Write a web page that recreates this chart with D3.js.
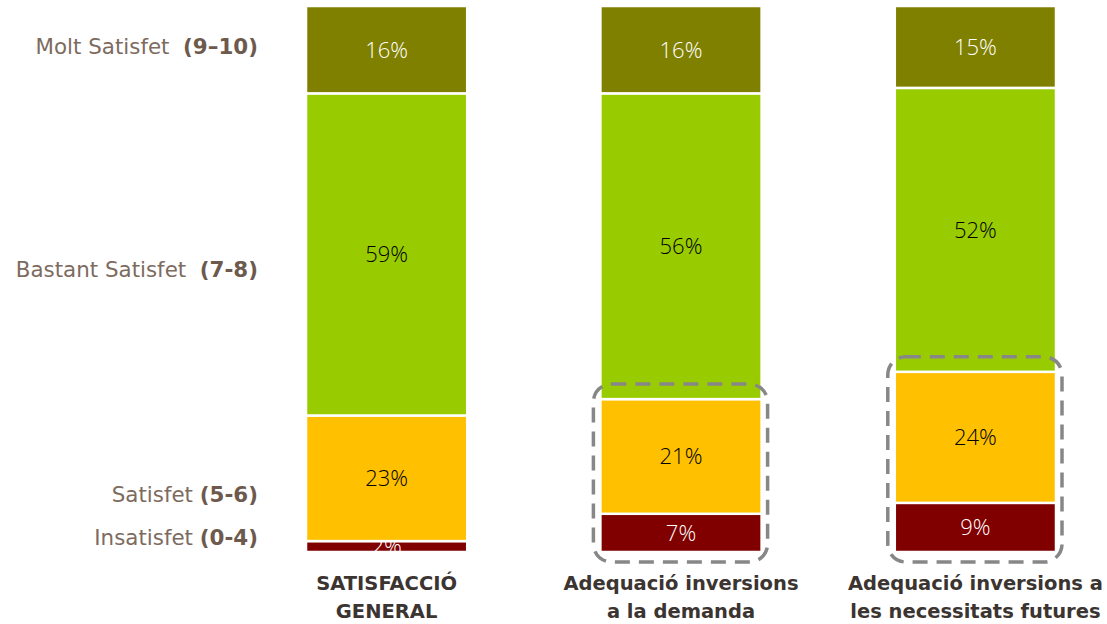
<!DOCTYPE html>
<html><head><meta charset="utf-8">
<script src="https://cdn.jsdelivr.net/npm/d3@7"></script>
<style>body{margin:0;background:#fff;}svg{display:block;}</style>
</head><body>
<svg id="c" width="1107" height="624"></svg>
<script>
const categories = ["SATISFACCIÓ GENERAL", "Adequació inversions a la demanda", "Adequació inversions a les necessitats futures"];
const categoryLines = [["SATISFACCIÓ", "GENERAL"], ["Adequació inversions", "a la demanda"], ["Adequació inversions a", "les necessitats futures"]];
const seriesNames = ["Insatisfet", "Satisfet", "Bastant Satisfet", "Molt Satisfet"];
const seriesRanges = ["(0-4)", "(5-6)", "(7-8)", "(9–10)"];
const insatisfet = [2, 7, 9];
const satisfet = [23, 21, 24];
const bastant = [59, 56, 52];
const molt = [16, 16, 15];
const highlighted = [false, true, true];

const colors = ["#800000", "#FFC000", "#99CC00", "#808000"];
const labelColors = ["#ffffff", "#000000", "#000000", "#ffffff"];
const values = [insatisfet, satisfet, bastant, molt];

const svg = d3.select("#c");
const x = d3.scaleBand().domain(categories).range([306, 1056]).paddingInner(0.4524).paddingOuter(0);
const y = d3.scaleLinear().domain([0, 100]).range([552, 6]);

const rows = categories.map((c, i) => {
  const r = {cat: c};
  seriesNames.forEach((s, j) => r[s] = values[j][i]);
  return r;
});
const stacked = d3.stack().keys(seriesNames)(rows);

stacked.forEach((layer, j) => {
  const g = svg.append("g");
  g.selectAll("rect").data(layer).join("rect")
    .attr("x", d => x(d.data.cat))
    .attr("width", x.bandwidth())
    .attr("y", d => y(d[1]))
    .attr("height", d => y(d[0]) - y(d[1]))
    .attr("fill", colors[j])
    .attr("stroke", "#fff").attr("stroke-width", 2.5);
  g.selectAll("text").data(layer).join("text")
    .attr("x", d => x(d.data.cat) + x.bandwidth() / 2)
    .attr("y", d => (y(d[0]) + y(d[1])) / 2)
    .attr("dy", "0.36em")
    .attr("text-anchor", "middle")
    .attr("font-family", "'Open Sans', sans-serif")
    .attr("font-weight", 300)
    .attr("font-size", 22)
    .attr("fill", labelColors[j])
    .text(d => (d[1] - d[0]) + "%");
});

stacked[0].forEach((d, i) => {
  if (!highlighted[i]) return;
  const top = y(stacked[1][i][1]) - 15;
  const bottom = y(0) + 10;
  const left = x(d.data.cat) - 7;
  const right = x(d.data.cat) + x.bandwidth() + 6;
  svg.append("rect")
    .attr("x", left).attr("y", top)
    .attr("width", right - left).attr("height", bottom - top)
    .attr("rx", 18).attr("ry", 18)
    .attr("fill", "none").attr("stroke", "#878787")
    .attr("stroke-width", 3.5).attr("stroke-dasharray", "15 9");
});

const legendY = [545, 502, 277, 54];
const legend = svg.append("g");
seriesNames.forEach((s, j) => {
  const t = legend.append("text")
    .attr("x", 258).attr("y", legendY[j])
    .attr("text-anchor", "end")
    .attr("xml:space", "preserve")
    .style("white-space", "pre")
    .attr("font-family", "DejaVu Sans").attr("font-size", 21.4)
    .attr("fill", "#7d6b5f");
  t.append("tspan").text(s + (j >= 2 ? "  " : " "));
  t.append("tspan").attr("font-weight", "bold").attr("fill", "#6e5a4d").text(seriesRanges[j]);
});

const xl = svg.append("g");
categories.forEach((c, i) => {
  categoryLines[i].forEach((line, k) => {
    xl.append("text")
      .attr("x", x(c) + x.bandwidth() / 2)
      .attr("y", 590 + k * 28)
      .attr("text-anchor", "middle")
      .attr("font-family", "DejaVu Sans").attr("font-weight", "bold")
      .attr("font-size", 19.5).attr("fill", "#3b3430")
      .text(line);
  });
});
</script>
</body></html>
